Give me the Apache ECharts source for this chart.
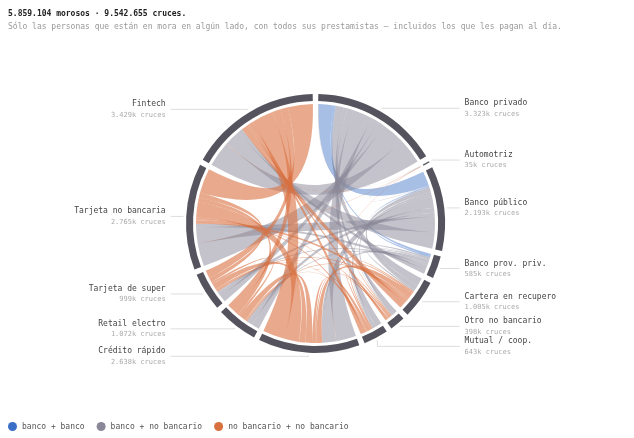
<!DOCTYPE html>
<html>
<head>
<meta charset="utf-8">
<script src="https://cdn.jsdelivr.net/npm/echarts@6/dist/echarts.min.js"></script>
<style>
  html, body { margin: 0; padding: 0; background: #fff; }
  #main { width: 634px; height: 438px; }
</style>
</head>
<body>
<div id="main"></div>
<script>
var nodeNames = ['Banco privado', 'Automotriz', 'Banco público', 'Banco prov. priv.', 'Cartera en recupero',
  'Otro no bancario', 'Mutual / coop.', 'Crédito rápido', 'Retail electro', 'Tarjeta de super',
  'Tarjeta no bancaria', 'Fintech'];
// miles de cruces por prestamista
var nodeTotals = [3323, 35, 2193, 585, 1005, 398, 643, 2638, 1072, 999, 2765, 3429];
var isBank = [true, false, true, true, false, false, false, false, false, false, false, false];

// [i, j, miles de cruces]
var links = [
  [0, 1, 13], [0, 2, 420], [0, 3, 60], [0, 4, 230], [0, 5, 100], [0, 6, 180], [0, 7, 560],
  [0, 8, 210], [0, 9, 180], [0, 10, 650], [0, 11, 720],
  [1, 2, 7], [1, 5, 1], [1, 7, 4], [1, 8, 2], [1, 9, 2], [1, 10, 2], [1, 11, 4],
  [2, 3, 40], [2, 4, 145], [2, 5, 60], [2, 6, 76], [2, 7, 300], [2, 8, 130], [2, 9, 115],
  [2, 10, 440], [2, 11, 460],
  [3, 4, 45], [3, 5, 20], [3, 6, 25], [3, 7, 90], [3, 8, 40], [3, 9, 35], [3, 10, 110], [3, 11, 120],
  [4, 5, 30], [4, 6, 35], [4, 7, 160], [4, 8, 40], [4, 9, 45], [4, 10, 95], [4, 11, 180],
  [5, 6, 33], [5, 7, 38.5], [5, 8, 12], [5, 9, 14], [5, 10, 30], [5, 11, 60],
  [6, 7, 85], [6, 8, 18], [6, 9, 28], [6, 10, 48], [6, 11, 115],
  [7, 8, 190], [7, 9, 170], [7, 10, 420], [7, 11, 620],
  [8, 9, 60], [8, 10, 140], [8, 11, 230],
  [9, 10, 130], [9, 11, 220],
  [10, 11, 700]
];

// 0 = banco + banco, 1 = banco + no bancario, 2 = no bancario + no bancario
var legendNames = ['banco + banco', 'banco + no bancario', 'no bancario + no bancario'];
var legendColors = ['#3b6ec6', '#8a8898', '#d8703f'];
var ribbonOpacity = [0.45, 0.5, 0.6];

var MONO = '"DejaVu Sans Mono", "Liberation Mono", monospace';
var PAD = 2.5;
var CENTER = [315.5, 223.5];

var total = nodeTotals.reduce(function (a, b) { return a + b; }, 0);
// pie slice = node share + its gap, so the pie ring lines up with the chord layout
var padValue = PAD * total / (360 - PAD * nodeTotals.length);

function fmtK(n) {
  if (n >= 1000) {
    var r = String(n % 1000);
    while (r.length < 3) r = '0' + r;
    return Math.floor(n / 1000) + '.' + r + 'k';
  }
  return n + 'k';
}

function linkType(l) {
  var banks = (isBank[l[0]] ? 1 : 0) + (isBank[l[1]] ? 1 : 0);
  return 2 - banks;
}

// the chord series fills ribbons with the source node colour only, so one
// series per ribbon type: same links (same layout), the other types hidden
var chordSeries = legendColors.map(function (color, t) {
  return {
    type: 'chord',
    center: CENTER,
    radius: [119.5, 120.5],
    startAngle: 90 - PAD / 2,
    clockwise: true,
    padAngle: PAD,
    silent: true,
    itemStyle: { color: color, opacity: 0 },
    lineStyle: { color: 'source', opacity: ribbonOpacity[t], width: 0 },
    label: { show: false },
    data: nodeNames.map(function (n) { return { name: n }; }),
    links: links.map(function (l) {
      return {
        source: nodeNames[l[0]],
        target: nodeNames[l[1]],
        value: l[2],
        lineStyle: { opacity: linkType(l) === t ? ribbonOpacity[t] : 0 }
      };
    })
  };
});

var pieData = nodeNames.map(function (n, i) {
  return { name: n, value: nodeTotals[i] + padValue };
});

var legendSeries = legendNames.map(function (n, i) {
  return {
    type: 'custom',
    name: n,
    coordinateSystem: 'none',
    renderItem: function () { return null; },
    data: [],
    itemStyle: { color: legendColors[i] }
  };
});

var myChart = echarts.init(document.getElementById('main'));

myChart.setOption({
  animation: false,
  title: {
    text: '5.859.104 morosos · 9.542.655 cruces.',
    subtext: 'Sólo las personas que están en mora en algún lado, con todos sus prestamistas — incluidos los que les pagan al día.',
    left: 3,
    top: 5,
    itemGap: 5,
    textStyle: { fontFamily: MONO, fontSize: 8, fontWeight: 'bold', color: '#222' },
    subtextStyle: { fontFamily: MONO, fontSize: 8, color: '#999' }
  },
  legend: {
    data: legendNames,
    left: 3,
    top: 417,
    icon: 'circle',
    itemWidth: 9,
    itemHeight: 9,
    itemGap: 12,
    textStyle: { fontFamily: MONO, fontSize: 8, color: '#555' }
  },
  series: chordSeries.concat([
    {
      type: 'pie',
      center: CENTER,
      radius: [122.5, 129.5],
      startAngle: 90,
      clockwise: true,
      padAngle: PAD,
      silent: true,
      itemStyle: { color: '#55545e' },
      label: { show: false },
      labelLine: { show: false },
      data: pieData
    },
    {
      type: 'pie',
      center: CENTER,
      radius: [131, 132],
      startAngle: 90,
      clockwise: true,
      silent: true,
      itemStyle: { color: 'rgba(0,0,0,0)' },
      label: {
        show: true,
        alignTo: 'labelLine',
        distanceToLabelLine: 5,
        formatter: function (p) {
          return '{n|' + p.name + '}\n{s|' + fmtK(nodeTotals[p.dataIndex]) + ' cruces}';
        },
        rich: {
          n: { fontFamily: MONO, fontSize: 8, color: '#444', lineHeight: 11 },
          s: { fontFamily: MONO, fontSize: 7, color: '#aaa', lineHeight: 10 }
        }
      },
      labelLine: {
        show: true,
        length: 1,
        length2: 12,
        lineStyle: { color: '#ddd', width: 1 }
      },
      data: pieData
    }
  ]).concat(legendSeries)
});
</script>
</body>
</html>
